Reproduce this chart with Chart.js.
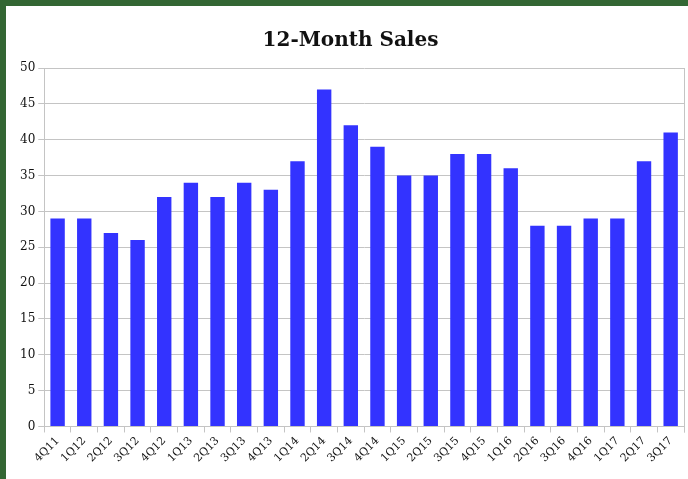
<!DOCTYPE html>
<html>
<head>
<meta charset="utf-8">
<script src="https://cdn.jsdelivr.net/npm/chart.js@4"></script>
<style>
  html, body { margin: 0; padding: 0; background: #fff; }
  #frame {
    position: absolute; left: 0; top: 0; width: 682px; height: 473px;
    border-top: 6px solid #336633; border-left: 6px solid #336633;
    background: #fff;
  }
  #wrap { position: relative; width: 682px; height: 473px; }
</style>
</head>
<body>
<div id="frame"><div id="wrap"><canvas id="salesChart"></canvas></div></div>
<script>
const quarters = ['4Q11', '1Q12', '2Q12', '3Q12', '4Q12', '1Q13', '2Q13', '3Q13', '4Q13', '1Q14', '2Q14', '3Q14',
  '4Q14', '1Q15', '2Q15', '3Q15', '4Q15', '1Q16', '2Q16', '3Q16', '4Q16', '1Q17', '2Q17', '3Q17'];
const sales = [29, 29, 27, 26, 32, 34, 32, 34, 33, 37, 47, 42, 39, 35, 35, 38, 38, 36, 28, 28, 29, 29, 37, 41];
const yTicks = [0, 5, 10, 15, 20, 25, 30, 35, 40, 45, 50];

const gridColor = '#c4c4c4';
const fontFamily = "'DejaVu Serif', Georgia, serif";

// right edge of the plot area has a frame line too
const rightBorder = {
  id: 'rightBorder',
  afterDraw(chart) {
    const { ctx, chartArea } = chart;
    ctx.save();
    ctx.strokeStyle = gridColor;
    ctx.lineWidth = 1;
    ctx.beginPath();
    ctx.moveTo(Math.round(chartArea.right) + 0.5, chartArea.top);
    ctx.lineTo(Math.round(chartArea.right) + 0.5, chartArea.bottom + 6);
    ctx.stroke();
    ctx.restore();
  }
};

const ctx = document.getElementById('salesChart').getContext('2d');
new Chart(ctx, {
  type: 'bar',
  data: {
    labels: quarters,
    datasets: [{
      data: sales,
      backgroundColor: '#3333ff',
      borderWidth: 0,
      categoryPercentage: 1,
      barPercentage: 0.54
    }]
  },
  options: {
    responsive: true,
    maintainAspectRatio: false,
    animation: false,
    layout: { padding: { left: 11, right: 4, top: 0, bottom: 12 } },
    plugins: {
      legend: { display: false },
      tooltip: { enabled: false },
      title: {
        display: true,
        text: '12-Month Sales',
        color: '#111',
        font: { family: fontFamily, size: 20, weight: 'bold' },
        padding: { top: 23, bottom: 15 }
      }
    },
    scales: {
      x: {
        grid: { drawOnChartArea: false, color: gridColor, tickLength: 6, offset: true },
        border: { color: gridColor },
        ticks: {
          color: '#111',
          font: { family: fontFamily, size: 11 },
          minRotation: 45,
          maxRotation: 45,
          autoSkip: false,
          padding: 2
        }
      },
      y: {
        min: 0,
        max: 50,
        afterBuildTicks: axis => { axis.ticks = yTicks.map(v => ({ value: v })); },
        grid: { color: gridColor, tickLength: 6 },
        border: { color: gridColor },
        ticks: {
          color: '#111',
          font: { family: fontFamily, size: 12 },
          padding: 3
        }
      }
    }
  },
  plugins: [rightBorder]
});
</script>
</body>
</html>
